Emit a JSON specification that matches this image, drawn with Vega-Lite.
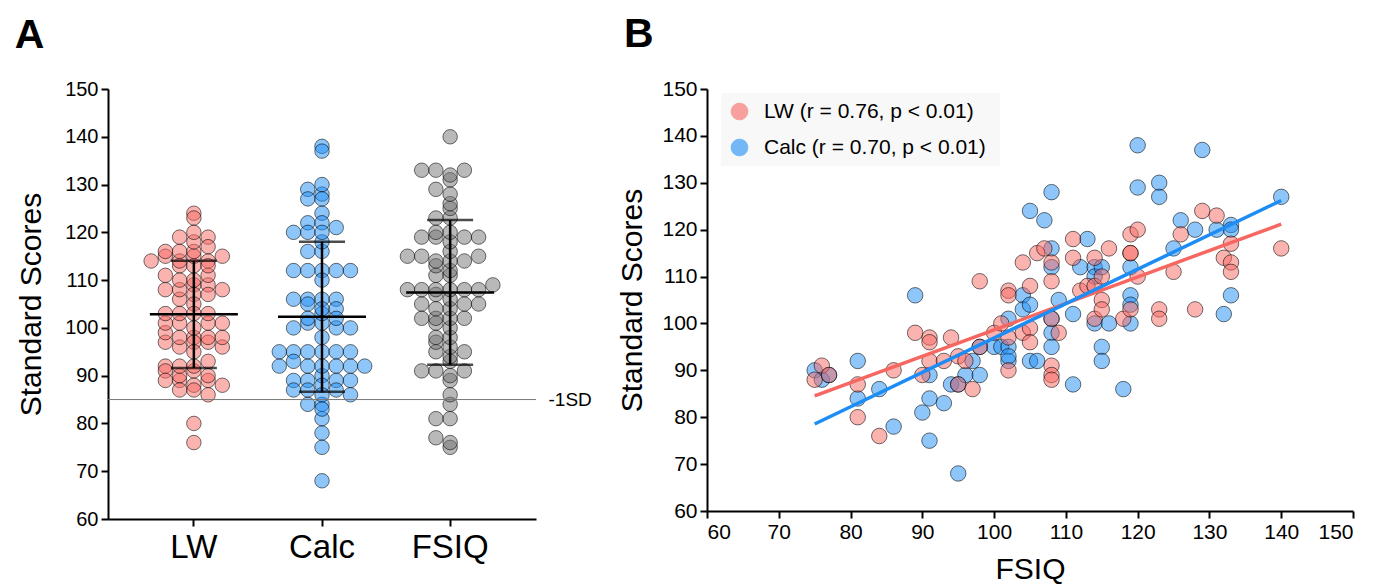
{
  "$schema": "https://vega.github.io/schema/vega-lite/v6.json",
  "padding": {"left": 14, "top": 14, "right": 4, "bottom": 0},
  "config": {
    "font": "Liberation Sans",
    "view": {"stroke": null},
    "axis": {
      "domainColor": "black", "domainWidth": 2, "tickColor": "black", "tickWidth": 2, "tickSize": 7,
      "labelColor": "black", "labelFontSize": 20, "labelPadding": 3,
      "titleColor": "black", "titleFontSize": 30, "titleFontWeight": "normal", "grid": false
    },
    "title": {"fontSize": 41, "fontWeight": "bold", "anchor": "start", "color": "black"},
    "concat": {"spacing": 25}
  },
  "datasets": {
    "subjects": [
      {"FSIQ": 75, "LW": 88, "Calc": 90},
      {"FSIQ": 76, "LW": 91, "Calc": 88},
      {"FSIQ": 77, "LW": 89, "Calc": 89},
      {"FSIQ": 81, "LW": 87, "Calc": 92},
      {"FSIQ": 81, "LW": 80, "Calc": 84},
      {"FSIQ": 84, "LW": 76, "Calc": 86},
      {"FSIQ": 86, "LW": 90, "Calc": 78},
      {"FSIQ": 89, "LW": 98, "Calc": 106},
      {"FSIQ": 90, "LW": 89, "Calc": 81},
      {"FSIQ": 91, "LW": 97, "Calc": 84},
      {"FSIQ": 91, "LW": 96, "Calc": 75},
      {"FSIQ": 91, "LW": 92, "Calc": 89},
      {"FSIQ": 93, "LW": 92, "Calc": 83},
      {"FSIQ": 94, "LW": 97, "Calc": 87},
      {"FSIQ": 95, "LW": 93, "Calc": 87},
      {"FSIQ": 95, "LW": 87, "Calc": 68},
      {"FSIQ": 96, "LW": 92, "Calc": 89},
      {"FSIQ": 97, "LW": 86, "Calc": 92},
      {"FSIQ": 98, "LW": 109, "Calc": 95},
      {"FSIQ": 98, "LW": 95, "Calc": 89},
      {"FSIQ": 100, "LW": 98, "Calc": 95},
      {"FSIQ": 101, "LW": 100, "Calc": 95},
      {"FSIQ": 102, "LW": 107, "Calc": 101},
      {"FSIQ": 102, "LW": 106, "Calc": 95},
      {"FSIQ": 102, "LW": 90, "Calc": 92},
      {"FSIQ": 102, "LW": 97, "Calc": 93},
      {"FSIQ": 104, "LW": 113, "Calc": 106},
      {"FSIQ": 104, "LW": 98, "Calc": 103},
      {"FSIQ": 105, "LW": 108, "Calc": 104},
      {"FSIQ": 105, "LW": 99, "Calc": 124},
      {"FSIQ": 105, "LW": 96, "Calc": 92},
      {"FSIQ": 106, "LW": 115, "Calc": 92},
      {"FSIQ": 107, "LW": 116, "Calc": 122},
      {"FSIQ": 108, "LW": 113, "Calc": 128},
      {"FSIQ": 108, "LW": 109, "Calc": 116},
      {"FSIQ": 108, "LW": 101, "Calc": 112},
      {"FSIQ": 108, "LW": 91, "Calc": 101},
      {"FSIQ": 108, "LW": 89, "Calc": 98},
      {"FSIQ": 108, "LW": 88, "Calc": 95},
      {"FSIQ": 109, "LW": 98, "Calc": 105},
      {"FSIQ": 111, "LW": 118, "Calc": 102},
      {"FSIQ": 111, "LW": 114, "Calc": 87},
      {"FSIQ": 112, "LW": 107, "Calc": 112},
      {"FSIQ": 113, "LW": 108, "Calc": 118},
      {"FSIQ": 114, "LW": 108, "Calc": 112},
      {"FSIQ": 114, "LW": 114, "Calc": 110},
      {"FSIQ": 114, "LW": 101, "Calc": 100},
      {"FSIQ": 115, "LW": 105, "Calc": 112},
      {"FSIQ": 115, "LW": 103, "Calc": 95},
      {"FSIQ": 115, "LW": 110, "Calc": 92},
      {"FSIQ": 116, "LW": 116, "Calc": 100},
      {"FSIQ": 118, "LW": 101, "Calc": 86},
      {"FSIQ": 119, "LW": 115, "Calc": 112},
      {"FSIQ": 119, "LW": 115, "Calc": 106},
      {"FSIQ": 119, "LW": 119, "Calc": 104},
      {"FSIQ": 119, "LW": 103, "Calc": 100},
      {"FSIQ": 120, "LW": 120, "Calc": 138},
      {"FSIQ": 120, "LW": 110, "Calc": 129},
      {"FSIQ": 123, "LW": 103, "Calc": 130},
      {"FSIQ": 123, "LW": 101, "Calc": 127},
      {"FSIQ": 125, "LW": 111, "Calc": 116},
      {"FSIQ": 126, "LW": 119, "Calc": 122},
      {"FSIQ": 128, "LW": 103, "Calc": 120},
      {"FSIQ": 129, "LW": 124, "Calc": 137},
      {"FSIQ": 131, "LW": 123, "Calc": 120},
      {"FSIQ": 132, "LW": 114, "Calc": 102},
      {"FSIQ": 133, "LW": 117, "Calc": 121},
      {"FSIQ": 133, "LW": 113, "Calc": 120},
      {"FSIQ": 133, "LW": 111, "Calc": 106},
      {"FSIQ": 140, "LW": 116, "Calc": 127}
    ]
  },
  "hconcat": [
    {
      "title": {"text": "A", "offset": 22, "dx": -2},
      "width": 428,
      "height": 430,
      "data": {"name": "subjects"},
      "layer": [
        {
          "transform": [
            {"fold": ["LW", "Calc", "FSIQ"], "as": ["measure", "score"]},
            {"bin": {"step": 2}, "field": "score", "as": "sbin"},
            {"window": [{"op": "row_number", "as": "slot"}], "groupby": ["measure", "sbin"]}
          ],
          "mark": {"type": "circle", "size": 210, "opacity": 1, "fillOpacity": 0.5, "stroke": "black", "strokeWidth": 1, "strokeOpacity": 0.55},
          "encoding": {
            "x": {"field": "measure", "type": "nominal", "sort": ["LW", "Calc", "FSIQ"],
                  "scale": {"paddingInner": 0, "paddingOuter": 0.17},
                  "axis": {"title": null, "labelAngle": 0, "labelFontSize": 33, "labelPadding": 5}},
            "xOffset": {"field": "slot", "type": "ordinal", "scale": {"type": "point", "domain": [8, 6, 4, 2, 1, 3, 5, 7, 9]}},
            "y": {"field": "score", "type": "quantitative",
                  "scale": {"domain": [60, 150], "nice": false, "zero": false},
                  "axis": {"values": [60, 70, 80, 90, 100, 110, 120, 130, 140, 150], "title": "Standard Scores", "titlePadding": 18}},
            "color": {"field": "measure", "type": "nominal",
                      "scale": {"domain": ["LW", "Calc", "FSIQ"], "range": ["#F76761", "#1D8DF5", "#737373"]},
                      "legend": null}
          }
        },
        {
          "transform": [{"fold": ["LW", "Calc", "FSIQ"], "as": ["measure", "score"]}],
          "mark": {"type": "errorbar", "extent": "stdev", "thickness": 2.5,
                   "ticks": {"size": 46, "color": "black"},
                   "rule": {"color": "black"}},
          "encoding": {
            "x": {"field": "measure", "type": "nominal", "sort": ["LW", "Calc", "FSIQ"]},
            "y": {"field": "score", "type": "quantitative", "axis": null}
          }
        },
        {
          "transform": [{"fold": ["LW", "Calc", "FSIQ"], "as": ["measure", "score"]}],
          "mark": {"type": "tick", "color": "black", "size": 88, "thickness": 2.5},
          "encoding": {
            "x": {"field": "measure", "type": "nominal", "sort": ["LW", "Calc", "FSIQ"]},
            "y": {"aggregate": "mean", "field": "score", "type": "quantitative", "axis": null}
          }
        },
        {
          "data": {"values": [{}]},
          "mark": {"type": "rule", "color": "#777777", "strokeWidth": 1},
          "encoding": {
            "y": {"datum": 85, "type": "quantitative",
                  "axis": {"orient": "right", "values": [85], "labelExpr": "'-1SD'", "domain": false, "ticks": false, "title": null, "labelFontSize": 19, "labelPadding": 12}}
          }
        }
      ],
      "resolve": {"axis": {"y": "independent"}}
    },
    {
      "title": {"text": "B", "offset": 22, "dx": 6},
      "width": 646,
      "height": 422,
      "data": {"name": "subjects"},
      "layer": [
        {
          "transform": [{"fold": ["LW", "Calc"], "as": ["measure", "score"]}],
          "mark": {"type": "circle", "size": 240, "opacity": 1, "fillOpacity": 0.5, "stroke": "black", "strokeWidth": 1, "strokeOpacity": 0.55},
          "encoding": {
            "x": {"field": "FSIQ", "type": "quantitative",
                  "scale": {"domain": [60, 150], "nice": false, "zero": false},
                  "axis": {"values": [60, 70, 80, 90, 100, 110, 120, 130, 140, 150], "title": "FSIQ", "titlePadding": 12, "labelFontSize": 21}},
            "y": {"field": "score", "type": "quantitative",
                  "scale": {"domain": [60, 150], "nice": false, "zero": false},
                  "axis": {"values": [60, 70, 80, 90, 100, 110, 120, 130, 140, 150], "title": "Standard Scores", "titlePadding": 14, "labelFontSize": 21}},
            "color": {"field": "measure", "type": "nominal",
                      "scale": {"domain": ["LW", "Calc"], "range": ["#F76761", "#1D8DF5"]},
                      "legend": {"orient": "none", "legendX": 14, "legendY": 4, "title": null,
                                 "labelExpr": "datum.label == 'LW' ? 'LW  (r = 0.76, p < 0.01)' : 'Calc  (r = 0.70, p < 0.01)'",
                                 "labelFontSize": 21, "labelColor": "black", "labelLimit": 500, "labelOffset": 14,
                                 "symbolType": "circle", "symbolSize": 280,
                                 "symbolStrokeColor": "#333333", "symbolStrokeWidth": 1, "symbolOpacity": 0.6,
                                 "rowPadding": 14, "padding": 8, "fillColor": "#f8f8f8"}},
            "order": {"field": "measure", "sort": "ascending"}
          }
        },
        {
          "transform": [
            {"fold": ["LW", "Calc"], "as": ["measure", "score"]},
            {"regression": "score", "on": "FSIQ", "groupby": ["measure"]}
          ],
          "mark": {"type": "line", "strokeWidth": 3.5},
          "encoding": {
            "x": {"field": "FSIQ", "type": "quantitative"},
            "y": {"field": "score", "type": "quantitative"},
            "color": {"field": "measure", "type": "nominal"}
          }
        }
      ]
    }
  ],
  "resolve": {"scale": {"color": "independent"}}
}
